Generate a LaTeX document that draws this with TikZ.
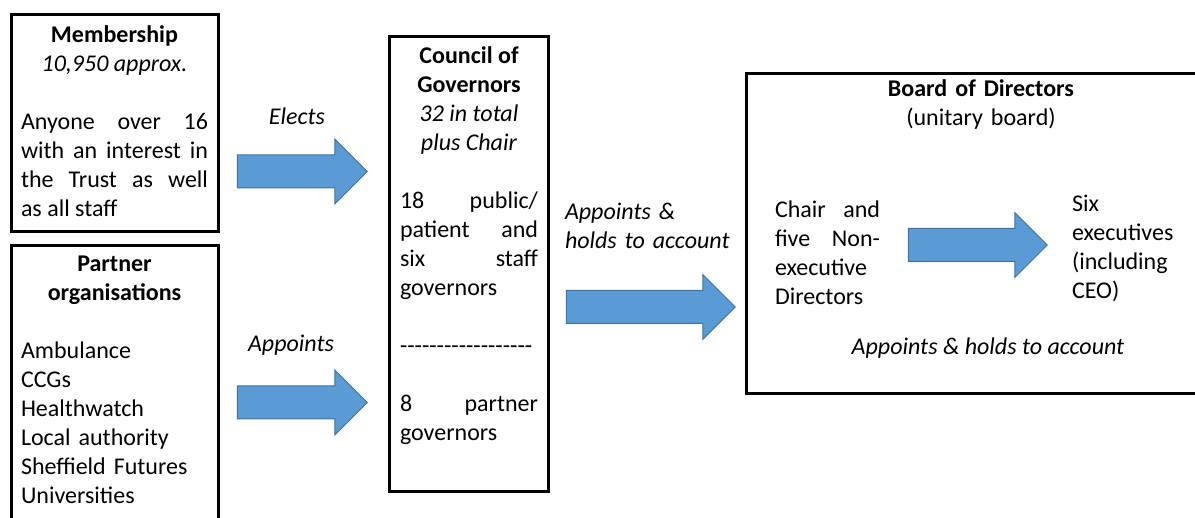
\documentclass[tikz,border=0pt]{standalone}
\usepackage{fontspec}
\setmainfont{Carlito}
\usetikzlibrary{shapes.arrows,fit}
\definecolor{arrowfill}{RGB}{91,155,213}
\definecolor{arrowline}{RGB}{65,113,156}
\newcommand\dashrow{-{}-{}-{}-{}-{}-{}-{}-{}-{}-{}-{}-{}-{}-{}-{}-{}-{}-{}}
\begin{document}
\begin{tikzpicture}[x=0.5pt,y=-0.5pt,
  box/.style={draw,line width=1.6pt,inner sep=0pt},
  txt/.style={inner sep=0pt,anchor=base,font=\fontsize{12}{14.5}\selectfont},
  lbl/.style={txt,font=\fontsize{12}{14.5}\selectfont\itshape},
  bigarrow/.style={single arrow,draw=arrowline,fill=arrowfill,line width=0.5pt,
    inner xsep=0pt,inner ysep=8pt,single arrow head extend=8pt,minimum height=#1}]
\useasboundingbox (0,0) rectangle (1195,518);
%membership
  \node[box,fit={(11.5,14.5) (218.5,231.5)}] (mem) {};
  \node[txt,text width=93.5pt,align=justify] (memtxt) at (114.5,43)
    {{\centering\textbf{Membership}\\\textit{10,950 approx.}\par}\vskip\baselineskip
     Anyone over 16\linebreak with an interest in\linebreak the Trust as well\linebreak as all staff};
%partners
  \node[box,fit={(11.5,245.5) (218.5,560)}] (part) {};
  \node[txt,text width=93.5pt,align=left] (parttxt) at (114.5,272)
    {{\centering\textbf{Partner}\\\textbf{organisations}\par}\vskip\baselineskip
     Ambulance\\CCGs\\Healthwatch\\Local authority\\Sheffield Futures\\Universities};
%governors
  \node[box,fit={(389.5,36.5) (548.5,491.5)}] (gov) {};
  \node[txt,text width=69pt,align=justify] (govtxt) at (469,64)
    {{\centering\textbf{Council of}\\\textbf{Governors}\\\textit{32 in total}\\\textit{plus Chair}\par}\vskip\baselineskip
     18 public/\linebreak patient and\linebreak six staff\linebreak governors\par\vskip\baselineskip
     \dashrow\par\vskip\baselineskip
     8 partner\linebreak governors};
%board
  \node[box,fit={(746.5,73.5) (1218,393.5)}] (board) {};
  \node[txt,text width=150pt,align=center] (boardtxt) at (981,97) {\textbf{Board of Directors}\\(unitary board)};
  \node[txt,text width=52.5pt,align=justify] (nonexec) at (827.5,218)
    {Chair and\linebreak five Non-\linebreak executive\linebreak Directors};
  \node[txt,text width=55pt,align=left] (exec) at (1127,212)
    {Six\\executives\\(including\\CEO)};
  \node[lbl] (boardlbl) at (988,355) {Appoints \& holds to account};
%arrows
  \node[bigarrow=65pt] (a1) at (294,171.5) {};
  \node[bigarrow=65pt] (a2) at (294,402.5) {};
  \node[bigarrow=84.5pt] (a3) at (642.5,307) {};
  \node[bigarrow=69.5pt] (a4) at (969.5,245) {};
%labels
  \node[lbl] (elects) at (297,125) {Elects};
  \node[lbl] (appoints) at (291,352) {Appoints};
  \node[lbl,text width=84pt,align=left] (holds) at (649,220)
    {Appoints \&\\holds to account};
\end{tikzpicture}
\end{document}
